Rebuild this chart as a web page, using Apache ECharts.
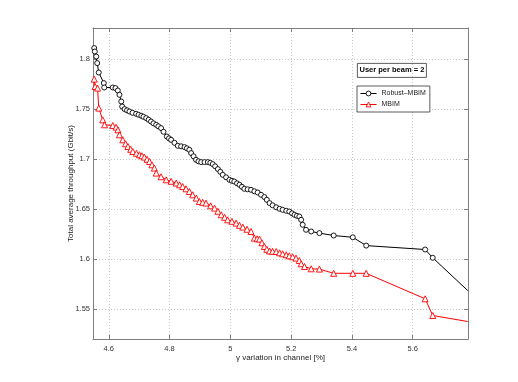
<!DOCTYPE html>
<html><head><meta charset="utf-8">
<script src="https://cdn.jsdelivr.net/npm/echarts@6/dist/echarts.min.js"></script>
<style>html,body{margin:0;padding:0;background:#fff}#c{width:518px;height:382px}</style>
</head><body><div id="c"></div>
<script>
const robustX = [4.552,4.554,4.5586,4.5618,4.567,4.5836,4.585,4.613,4.622,4.6296,4.635,4.641,4.644,4.652,4.660,4.668,4.678,4.690,4.698,4.707,4.714,4.723,4.731,4.739,4.747,4.756,4.763,4.772,4.780,4.791,4.798,4.805,4.816,4.827,4.838,4.849,4.857,4.865,4.871,4.879,4.887,4.895,4.904,4.915,4.926,4.934,4.942,4.950,4.959,4.967,4.975,4.986,4.997,5.005,5.013,5.022,5.030,5.038,5.046,5.057,5.068,5.079,5.090,5.101,5.112,5.120,5.129,5.139,5.151,5.162,5.172,5.184,5.194,5.203,5.211,5.219,5.227,5.233,5.238,5.249,5.266,5.293,5.340,5.403,5.447,5.641,5.666,5.781];
const robustY = [1.8109,1.8075,1.8025,1.7959,1.7865,1.7759,1.7715,1.7715,1.7709,1.7685,1.7642,1.7575,1.7525,1.7499,1.7487,1.7475,1.7462,1.7452,1.7442,1.7432,1.7422,1.7409,1.7392,1.7375,1.7357,1.7342,1.7327,1.7309,1.7272,1.7225,1.7207,1.7192,1.7162,1.7132,1.7127,1.7119,1.7107,1.7092,1.7059,1.7027,1.6992,1.6977,1.6969,1.6969,1.6969,1.6962,1.6949,1.6927,1.6899,1.6872,1.6842,1.6817,1.6792,1.6782,1.6775,1.6757,1.6742,1.6722,1.6702,1.6697,1.6692,1.6677,1.6665,1.6642,1.6619,1.6592,1.6559,1.6537,1.6517,1.6502,1.6492,1.6482,1.6475,1.6457,1.6442,1.6432,1.6425,1.6392,1.6342,1.6292,1.6275,1.6259,1.6235,1.6217,1.6134,1.6095,1.6012,1.5685];
const mbimX = [4.552,4.555,4.563,4.567,4.580,4.586,4.613,4.624,4.630,4.635,4.646,4.655,4.663,4.672,4.679,4.691,4.701,4.709,4.717,4.726,4.734,4.742,4.750,4.756,4.772,4.789,4.805,4.822,4.833,4.843,4.854,4.865,4.876,4.888,4.898,4.909,4.920,4.935,4.948,4.959,4.970,4.981,4.991,5.005,5.019,5.030,5.041,5.055,5.068,5.079,5.088,5.096,5.104,5.112,5.120,5.129,5.139,5.151,5.162,5.172,5.184,5.194,5.205,5.216,5.227,5.233,5.244,5.266,5.293,5.340,5.403,5.447,5.641,5.666,5.781];
const mbimY = [1.7799,1.7725,1.7709,1.7509,1.7392,1.7342,1.7335,1.7319,1.7292,1.7242,1.7192,1.7152,1.7125,1.7097,1.7075,1.7057,1.7042,1.7032,1.7019,1.6997,1.6975,1.6942,1.6909,1.6859,1.6822,1.6792,1.6777,1.6759,1.6742,1.6725,1.6702,1.6675,1.6642,1.6609,1.6575,1.6567,1.6559,1.6532,1.6509,1.6477,1.6442,1.6417,1.6392,1.6377,1.6359,1.6337,1.6319,1.6297,1.6275,1.6209,1.6202,1.6199,1.6162,1.6125,1.6097,1.6080,1.6077,1.6075,1.6062,1.6052,1.6042,1.6032,1.6022,1.6009,1.5985,1.5952,1.5925,1.5902,1.5899,1.5857,1.5857,1.5857,1.5602,1.5435,1.5375];
const xTicks = [4.6,4.8,5,5.2,5.4,5.6];
const yTicks = [1.55,1.6,1.65,1.7,1.75,1.8];
const seriesNames = ['Robust\u2013MBIM','MBIM'];
const boxText = 'User per beam = 2';

// last point of each series sits on the right frame: drawn without marker
const toData = (a,b)=>a.map((v,i)=> i===a.length-1 ? {value:[v,b[i]], symbol:'none'} : [v,b[i]]);
const F = '"Liberation Sans", Arial, sans-serif';
const frame = '#7f7f7f';
const gridLine = {show:true, lineStyle:{color:'#c8c8c8', type:[1,2], width:1}};
function xAx(pos, labels){
  return {type:'value', position:pos, min:4.548, max:5.782,
    axisLine:{show:true,onZero:false,lineStyle:{color:frame,width:1}},
    axisTick:{show:true,inside:true,length:4,customValues:xTicks,lineStyle:{color:frame}},
    axisLabel:{show:labels,customValues:xTicks,color:'#333',fontSize:7.5,fontFamily:F,margin:6,
      formatter:v=>String(+v.toFixed(2))},
    splitLine:Object.assign({customValues:xTicks},labels?gridLine:{show:false}),
    name: labels?'\u03b3 variation in channel [%]':'', nameLocation:'middle', nameGap:15, nameMoveOverlap:false,
    nameTextStyle:{color:'#222',fontSize:8,fontFamily:F}};
}
function yAx(pos, labels){
  return {type:'value', position:pos, min:1.52, max:1.831,
    axisLine:{show:true,onZero:false,lineStyle:{color:frame,width:1}},
    axisTick:{show:true,inside:true,length:4,customValues:yTicks,lineStyle:{color:frame}},
    axisLabel:{show:labels,customValues:yTicks,color:'#333',fontSize:7.5,fontFamily:F,margin:3,
      formatter:v=>String(+v.toFixed(2))},
    splitLine:Object.assign({customValues:yTicks},labels?gridLine:{show:false}),
    name: labels?'Total average throughput (Gbit/s)':'', nameLocation:'middle', nameGap:18, nameMoveOverlap:false,
    nameTextStyle:{color:'#222',fontSize:8,fontFamily:F}};
}
const chart = echarts.init(document.getElementById('c'), null, {renderer:'canvas'});
chart.setOption({
  animation:false,
  backgroundColor:'#fff',
  grid:{left:93,right:50,top:28,bottom:43,containLabel:false},
  xAxis:[xAx('bottom',true), xAx('top',false)],
  yAxis:[yAx('left',true), yAx('right',false)],
  legend:{show:true, orient:'vertical', left:357, top:86,
    padding:[4,4,4,3], itemGap:4, itemWidth:16, itemHeight:6,
    borderColor:'#333', borderWidth:0.8, backgroundColor:'#fff',
    lineStyle:{width:1}, itemStyle:{borderWidth:0.9},
    textStyle:{fontSize:7,fontFamily:F,color:'#222'},
    data:seriesNames},
  graphic:[{type:'group', left:357, top:63, children:[
    {type:'rect', shape:{x:0,y:0,width:69,height:14}, style:{fill:'#fff',stroke:'#333',lineWidth:0.8}},
    {type:'text', x:34.5, y:7, style:{text:boxText, fill:'#000', font:'bold 7.5px '+F, align:'center', verticalAlign:'middle'}}
  ]}],
  series:[
    {name:seriesNames[0], type:'line', data:toData(robustX,robustY), symbol:'circle', symbolSize:5,
      showAllSymbol:true, lineStyle:{color:'#000',width:1}, itemStyle:{color:'#fff',borderColor:'#000',borderWidth:0.9}, color:'#000', z:3},
    {name:seriesNames[1], type:'line', data:toData(mbimX,mbimY), symbol:'triangle', symbolSize:6,
      showAllSymbol:true, lineStyle:{color:'#ff0000',width:1}, itemStyle:{color:'#fff',borderColor:'#ff0000',borderWidth:0.9}, color:'#ff0000', z:2}
  ]
});
</script></body></html>
